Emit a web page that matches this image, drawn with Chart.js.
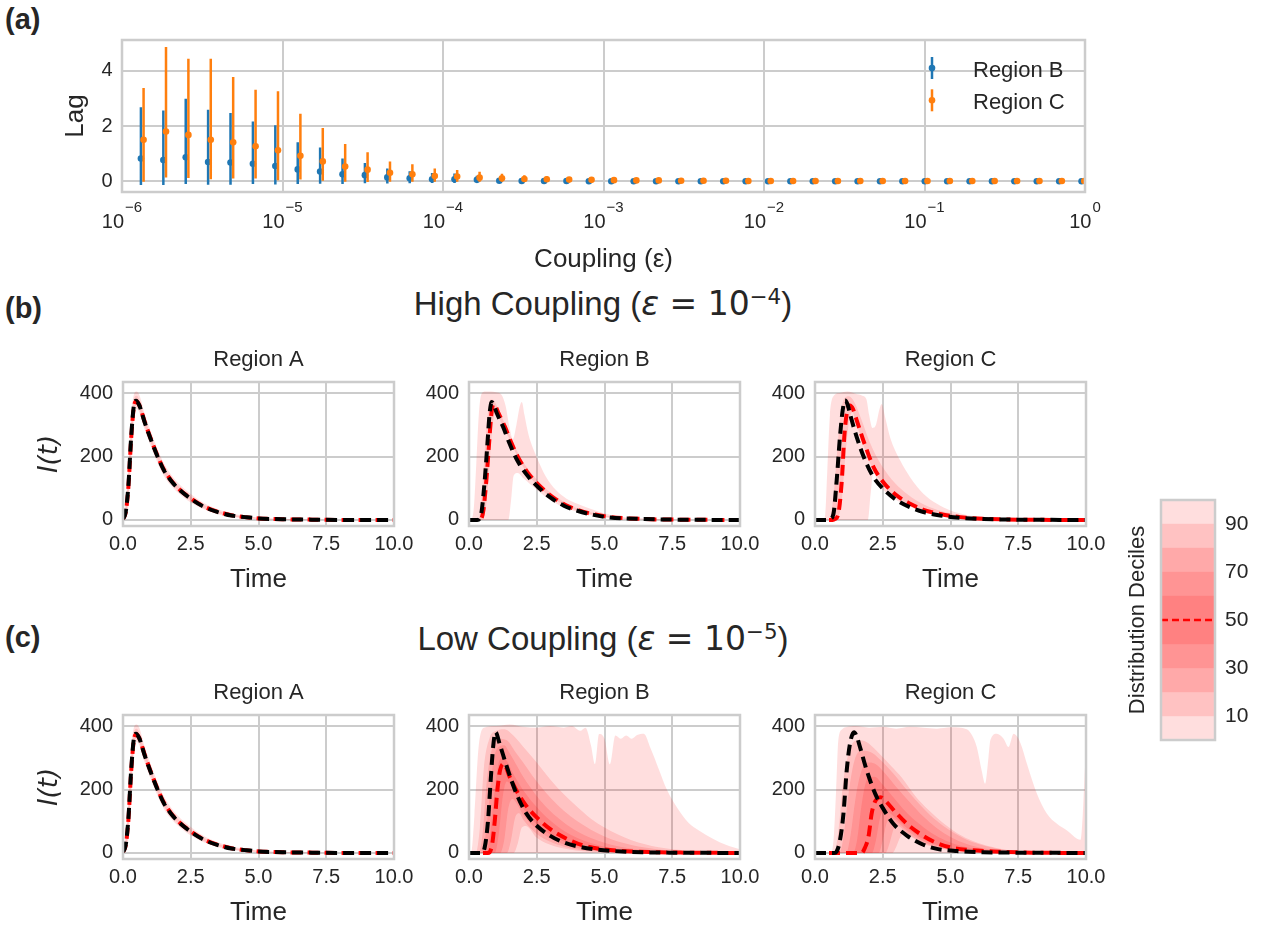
<!DOCTYPE html>
<html>
<head>
<meta charset="utf-8">
<script src="https://cdn.jsdelivr.net/npm/chart.js@4.4.0/dist/chart.umd.min.js"></script>
<style>
  body { margin: 0; background: #fff; }
  #fig { position: relative; width: 1261px; height: 926px; overflow: hidden;
         font-family: 'Liberation Sans', Arial, sans-serif; color: #262626; }
  canvas { position: absolute; }
  .panel { position: absolute; font-weight: bold; font-size: 29px; line-height: 1; }
  .suptitle { position: absolute; left: 253px; width: 700px; text-align: center;
              font-size: 33px; line-height: 1; white-space: nowrap; }
  .m { font-family: 'DejaVu Sans', sans-serif; }
  .sp { font-size: 0.65em; position: relative; top: -0.5em; }
</style>
</head>
<body>
<div id="fig">
  <div class="panel" style="left:5px; top:5px">(a)</div>
  <div class="panel" style="left:5px; top:293.5px">(b)</div>
  <div class="panel" style="left:5px; top:623px">(c)</div>
  <div class="suptitle" style="top:287px">High Coupling (<span class="m"><i>ε</i> = 10<span class="sp">−4</span></span>)</div>
  <div class="suptitle" style="top:622px">Low Coupling (<span class="m"><i>ε</i> = 10<span class="sp">−5</span></span>)</div>

  <canvas id="lag" width="1100" height="265" style="left:20px; top:25px"></canvas>
  <canvas id="highA" width="401" height="274" style="left:23px; top:332px"></canvas>
  <canvas id="highB" width="401" height="274" style="left:369px; top:332px"></canvas>
  <canvas id="highC" width="401" height="274" style="left:715px; top:332px"></canvas>
  <canvas id="lowA" width="401" height="274" style="left:23px; top:665px"></canvas>
  <canvas id="lowB" width="401" height="274" style="left:369px; top:665px"></canvas>
  <canvas id="lowC" width="401" height="274" style="left:715px; top:665px"></canvas>
  <canvas id="cbar" width="161" height="280" style="left:1100px; top:480px"></canvas>
</div>
<script>
// ---- panel (a): lag vs coupling ----
const couplingValues = [1.378e-6, 1.901e-6, 2.621e-6, 3.613e-6, 4.983e-6, 6.872e-6, 9.478e-6,
  1.307e-5, 1.802e-5, 2.485e-5, 3.427e-5, 4.726e-5, 6.516e-5, 8.985e-5,
  1.239e-4, 1.709e-4, 2.356e-4, 3.249e-4, 4.480e-4, 6.178e-4, 8.519e-4,
  1.175e-3, 1.620e-3, 2.234e-3, 3.080e-3, 4.247e-3, 5.857e-3, 8.076e-3,
  1.114e-2, 1.535e-2, 2.117e-2, 2.919e-2, 4.026e-2, 5.551e-2, 7.655e-2,
  0.1055, 0.1455, 0.2007, 0.2767, 0.3816, 0.5262, 0.7256, 1.0];
const lagB = [0.82, 0.77, 0.87, 0.70, 0.68, 0.63, 0.55, 0.43, 0.35, 0.25, 0.22, 0.14, 0.11, 0.07,
  0.07, 0.05, 0.02, 0.01, 0.01, 0.01, 0.00, 0.00, 0.00, 0.00, 0.00, 0.00, 0.00, 0.00,
  0.00, 0.00, 0.00, 0.00, 0.00, 0.00, 0.00, 0.00, 0.00, 0.00, 0.00, 0.00, 0.00, 0.00, 0.00];
const lagBLow = [-0.14, -0.14, -0.10, -0.13, -0.13, -0.10, -0.12, -0.10, -0.09, -0.10, -0.07, -0.08, -0.07, -0.06,
  -0.06, -0.05, -0.05, -0.04, -0.04, -0.03, -0.03, -0.02, -0.02, -0.02, -0.01, -0.01, -0.01, -0.01,
  -0.01, -0.01, -0.01, 0.00, 0.00, 0.00, 0.00, 0.00, 0.00, 0.00, 0.00, 0.00, 0.00, 0.00, 0.00];
const lagBHigh = [2.68, 2.56, 2.99, 2.59, 2.47, 2.17, 2.03, 1.41, 1.22, 0.82, 0.66, 0.46, 0.36, 0.30,
  0.28, 0.20, 0.12, 0.10, 0.08, 0.06, 0.05, 0.04, 0.03, 0.03, 0.02, 0.02, 0.02, 0.01,
  0.01, 0.01, 0.01, 0.01, 0.01, 0.00, 0.00, 0.00, 0.00, 0.00, 0.00, 0.00, 0.00, 0.00, 0.00];
const lagC = [1.50, 1.80, 1.68, 1.50, 1.41, 1.27, 1.12, 0.92, 0.72, 0.53, 0.42, 0.31, 0.25, 0.19,
  0.17, 0.13, 0.11, 0.08, 0.07, 0.06, 0.05, 0.04, 0.03, 0.03, 0.02, 0.02, 0.02, 0.01,
  0.01, 0.01, 0.01, 0.01, 0.01, 0.01, 0.01, 0.01, 0.01, 0.01, 0.01, 0.01, 0.01, 0.01, 0.01];
const lagCLow = [-0.02, 0.14, 0.12, 0.07, 0.10, 0.10, 0.04, 0.06, 0.02, -0.02, -0.03, -0.02, -0.02, -0.02,
  -0.02, -0.02, -0.02, -0.01, -0.01, -0.01, -0.01, -0.01, -0.01, -0.01, -0.01, -0.01, 0.00, 0.00,
  0.00, 0.00, 0.00, 0.00, 0.00, 0.00, 0.00, 0.00, 0.00, 0.00, 0.00, 0.00, 0.00, 0.00, 0.00];
const lagCHigh = [3.38, 4.87, 4.44, 4.44, 3.78, 3.32, 3.26, 2.45, 1.93, 1.35, 1.05, 0.72, 0.62, 0.46,
  0.41, 0.34, 0.27, 0.22, 0.18, 0.14, 0.12, 0.09, 0.07, 0.06, 0.05, 0.05, 0.04, 0.03,
  0.03, 0.03, 0.02, 0.02, 0.02, 0.02, 0.02, 0.02, 0.02, 0.02, 0.02, 0.02, 0.02, 0.02, 0.02];
const lagSeriesNames = ['Region B', 'Region C'];
const decadeExponents = [-6, -5, -4, -3, -2, -1, 0];
const lagTicks = [0, 2, 4];

// ---- panels (b), (c): I(t) over time, [time, value] pairs ----
const timeTicks = [0, 2.5, 5, 7.5, 10];
const countTicks = [0, 200, 400];

// Region A (same in both coupling settings)
const regionA_black = [[0,3],[0.1,25],[0.2,110],[0.3,260],[0.4,360],[0.48,376],[0.6,362],[0.8,308],[1,260],[1.25,205],[1.5,158],[1.75,126],[2,102],[2.5,67],[3,41],[3.5,25],[4,14],[4.5,9],[5,5],[6,2],[7,1],[8,0],[10,0]];
const regionA_median = [[0,3],[0.1,24],[0.2,105],[0.3,255],[0.4,355],[0.5,374],[0.6,362],[0.8,310],[1,262],[1.25,207],[1.5,160],[1.75,128],[2,103],[2.5,68],[3,42],[3.5,26],[4,15],[4.5,9],[5,5],[6,2],[7,1],[8,0],[10,0]];
const regionA_p0 = [[0,0],[0.1,5],[0.2,45],[0.3,170],[0.4,310],[0.5,350],[0.6,340],[0.8,285],[1,238],[1.25,185],[1.5,140],[1.75,110],[2,88],[2.5,55],[3,33],[3.5,18],[4,9],[4.5,5],[5,3],[6,1],[7,0],[10,0]];
const regionA_p10 = [[0,1],[0.1,12],[0.2,75],[0.3,215],[0.4,335],[0.5,362],[0.6,350],[0.8,296],[1,249],[1.25,195],[1.5,149],[1.75,118],[2,95],[2.5,61],[3,37],[3.5,22],[4,12],[5,4],[6,1],[7,0],[10,0]];
const regionA_p90 = [[0,8],[0.1,40],[0.2,150],[0.3,300],[0.4,380],[0.5,392],[0.6,380],[0.8,322],[1,272],[1.25,216],[1.5,168],[1.75,135],[2,110],[2.5,74],[3,47],[3.5,29],[4,17],[5,6],[6,2],[7,1],[10,0]];
const regionA_p100 = [[0,15],[0.1,60],[0.2,180],[0.3,330],[0.4,395],[0.5,405],[0.6,395],[0.8,335],[1,285],[1.25,228],[1.5,180],[1.75,146],[2,120],[2.5,82],[3,53],[3.5,34],[4,21],[4.5,13],[5,8],[6,3],[7,1],[8,0],[10,0]];

// High coupling, Region B
const highB_black = [[0,0],[0.3,0],[0.4,5],[0.47,30],[0.58,125],[0.68,240],[0.76,335],[0.84,372],[0.92,362],[1.01,340],[1.26,293],[1.5,240],[1.75,193],[2.1,146],[2.5,108],[3,71],[3.5,45],[4,29],[4.6,16],[5.2,8],[6.4,3],[7.6,1],[10,0]];
const highB_median = [[0,0],[0.36,0],[0.46,5],[0.53,30],[0.64,125],[0.74,240],[0.82,330],[0.9,365],[0.98,358],[1.07,340],[1.32,295],[1.56,244],[1.81,198],[2.16,150],[2.56,111],[3.06,74],[3.56,47],[4.06,30],[4.66,17],[5.26,9],[6.46,3],[7.66,1],[10,0]];
const highB_p0 = [[0,0],[1.45,0],[1.55,60],[1.65,140],[1.8,148],[2,132],[2.5,95],[3,62],[3.5,40],[4,25],[4.5,15],[5,8],[6,2],[7,0],[10,0]];
const highB_p10 = [[0,0],[0.45,0],[0.55,10],[0.65,60],[0.75,170],[0.85,280],[0.95,335],[1.05,338],[1.2,300],[1.45,262],[1.7,215],[1.95,174],[2.3,130],[2.7,94],[3.2,62],[3.7,39],[4.2,24],[4.8,13],[5.4,6],[6.6,2],[8,0],[10,0]];
const highB_p90 = [[0,0],[0.3,0],[0.4,20],[0.5,110],[0.6,240],[0.7,340],[0.8,380],[0.9,378],[1.1,345],[1.35,298],[1.6,250],[1.85,205],[2.2,158],[2.6,118],[3.1,80],[3.6,52],[4.1,34],[4.7,20],[5.3,11],[6.5,4],[7.7,1],[10,0]];
const highB_p100 = [[0,0],[0.08,2],[0.18,40],[0.27,180],[0.36,330],[0.45,395],[0.6,405],[0.8,405],[1,403],[1.2,395],[1.35,360],[1.5,290],[1.62,255],[1.75,300],[1.88,360],[1.95,372],[2.05,330],[2.2,268],[2.5,198],[2.85,135],[3.2,95],[3.6,67],[4,51],[4.45,36],[4.95,22],[5.45,12],[6,6],[7,2],[8,0],[10,0]];

// High coupling, Region C
const highC_black = [[0,0],[0.45,0],[0.55,3],[0.68,19],[0.8,125],[0.92,261],[1.02,345],[1.11,377],[1.2,365],[1.29,335],[1.54,261],[1.85,188],[2.16,135],[2.52,98],[3.02,62],[3.51,40],[4,25],[4.62,14],[5.36,7],[6.22,3],[7.5,1],[10,0]];
const highC_median = [[0,0],[0.65,0],[0.74,3],[0.86,19],[0.99,125],[1.08,261],[1.17,335],[1.29,361],[1.4,350],[1.54,314],[1.85,235],[2.16,167],[2.52,119],[3.02,77],[3.51,51],[4,32],[4.62,19],[5.36,9],[6.2,4],[7.5,1],[10,0]];
const highC_p0 = [[0,0],[1.95,0],[2.05,80],[2.15,150],[2.3,125],[2.52,95],[3.14,56],[3.76,35],[4.5,17],[5.5,6],[6.5,2],[7.5,0],[10,0]];
const highC_p10 = [[0,0],[0.78,0],[0.88,10],[1,70],[1.12,200],[1.25,305],[1.38,340],[1.5,310],[1.7,258],[2,185],[2.3,138],[2.7,95],[3.2,62],[3.7,40],[4.2,25],[4.8,14],[5.5,6],[6.5,2],[8,0],[10,0]];
const highC_p90 = [[0,0],[0.5,0],[0.6,20],[0.72,110],[0.85,250],[0.98,350],[1.1,385],[1.25,390],[1.45,372],[1.7,320],[2,250],[2.3,195],[2.7,142],[3.2,96],[3.7,64],[4.2,42],[4.8,25],[5.5,13],[6.5,5],[8,1],[10,0]];
const highC_p100 = [[0,0],[0.3,0],[0.38,20],[0.45,150],[0.55,330],[0.68,390],[0.9,400],[1.2,405],[1.5,398],[1.75,392],[1.9,380],[2,330],[2.12,290],[2.25,300],[2.38,350],[2.46,366],[2.6,320],[2.77,261],[3.14,188],[3.51,135],[4,83],[4.5,51],[5,30],[5.6,16],[6.2,10],[7,4],[8,1],[10,0]];

// Low coupling, Region B
const lowB_black = [[0,0],[0.45,0],[0.58,18],[0.7,100],[0.8,229],[0.89,334],[0.98,381],[1.13,344],[1.38,276],[1.75,187],[2.12,124],[2.5,86],[3,54],[3.5,33],[4,21],[4.6,12],[5.2,7],[6.4,2],[7.5,1],[10,0]];
const lowB_median = [[0,0],[0.7,0],[0.85,25],[0.95,100],[1.05,200],[1.15,262],[1.28,281],[1.5,240],[1.75,197],[2.1,150],[2.5,112],[3,75],[3.6,45],[4.2,24],[5,11],[6,5],[7,2],[8,1],[10,0]];
const lowB_p0 = [[0,0],[10,0]];
const lowB_p10 = [[0,0],[1.65,0],[1.8,30],[1.95,80],[2.1,85],[2.5,48],[3,26],[3.5,14],[4,7],[5,2],[6,0.5],[7,0],[10,0]];
const lowB_p20 = [[0,0],[1.4,0],[1.55,40],[1.7,110],[1.85,125],[2,105],[2.5,60],[3,35],[3.5,20],[4,11],[5,3],[6,1],[7,0],[10,0]];
const lowB_p30 = [[0,0],[1.15,0],[1.3,40],[1.45,140],[1.6,170],[1.8,150],[2,120],[2.5,75],[3,46],[3.5,27],[4,16],[5,5],[6,1.5],[7,0.5],[10,0]];
const lowB_p40 = [[0,0],[0.95,0],[1.1,60],[1.25,180],[1.4,225],[1.6,205],[1.8,170],[2,140],[2.5,90],[3,58],[3.5,36],[4,21],[5,7],[6,2.5],[7,1],[10,0]];
const lowB_p60 = [[0,0],[0.6,0],[0.75,40],[0.9,160],[1.05,265],[1.2,300],[1.4,290],[1.6,255],[1.8,225],[2,198],[2.5,145],[3,102],[3.5,70],[4,47],[5,20],[6,8],[7,3],[8,1],[10,0]];
const lowB_p70 = [[0,0],[0.45,0],[0.6,50],[0.75,170],[0.9,290],[1.1,335],[1.3,340],[1.5,315],[1.8,270],[2,240],[2.5,180],[3,132],[3.5,96],[4,68],[5,32],[6,14],[7,6],[8,2],[10,0]];
const lowB_p80 = [[0,0],[0.35,0],[0.5,60],[0.65,220],[0.85,330],[1.1,360],[1.4,355],[1.7,320],[2,285],[2.5,225],[3,175],[3.5,133],[4,100],[5,52],[6,25],[7,11],[8,4],[10,0]];
const lowB_p90 = [[0,0],[0.25,0],[0.4,80],[0.55,270],[0.75,360],[1,385],[1.3,390],[1.7,365],[2,335],[2.5,285],[3,232],[3.5,185],[4,145],[4.5,108],[5,80],[6,40],[7,18],[8,8],[9,3],[10,1]];
const lowB_p100 = [[0,0],[0.08,0],[0.2,120],[0.35,330],[0.55,395],[1,400],[1.5,405],[2,398],[2.5,395],[3,400],[3.5,395],[3.8,400],[4.1,385],[4.3,395],[4.5,340],[4.65,280],[4.8,375],[5,360],[5.2,280],[5.4,370],[5.6,360],[5.8,370],[6,360],[6.2,372],[6.45,376],[6.7,330],[7,265],[7.3,200],[7.7,140],[8.1,95],[8.5,70],[9,45],[9.5,25],[10,12]];

// Low coupling, Region C
const lowC_black = [[0,0],[0.7,0],[0.8,5],[0.92,39],[1.05,124],[1.17,260],[1.29,344],[1.44,381],[1.55,365],[1.66,334],[1.91,260],[2.22,187],[2.52,139],[2.89,92],[3.39,55],[4,26],[4.5,13],[5.23,6],[6.2,2],[7.5,1],[10,0]];
const lowC_median = [[0,0],[1.72,0],[1.85,18],[1.97,50],[2.09,124],[2.18,155],[2.28,170],[2.4,176],[2.52,172],[2.65,160],[3.02,124],[3.39,92],[3.88,60],[4.37,36],[4.99,18],[5.6,10],[6.83,4],[8,1],[10,0]];
const lowC_p0 = [[0,0],[10,0]];
const lowC_p10 = [[0,0],[2.85,0],[3,20],[3.15,50],[3.3,60],[3.6,48],[4,28],[4.5,16],[5,9],[5.6,4],[6.5,1],[7.5,0],[10,0]];
const lowC_p20 = [[0,0],[2.6,0],[2.75,30],[2.9,75],[3.05,85],[3.4,62],[3.9,36],[4.4,20],[5,9],[5.6,4],[6.5,1],[7.5,0],[10,0]];
const lowC_p30 = [[0,0],[2.35,0],[2.5,40],[2.65,95],[2.8,110],[3,100],[3.4,70],[3.9,42],[4.4,24],[5,11],[5.6,5],[6.5,2],[7.5,0],[10,0]];
const lowC_p40 = [[0,0],[2.1,0],[2.25,40],[2.4,110],[2.55,135],[2.7,130],[3,108],[3.4,78],[3.9,48],[4.4,28],[5,13],[5.6,7],[6.5,3],[7.5,1],[10,0]];
const lowC_p60 = [[0,0],[1.4,0],[1.55,40],[1.7,140],[1.85,215],[2,240],[2.2,240],[2.5,215],[2.9,175],[3.3,135],[3.8,95],[4.3,63],[4.8,40],[5.4,22],[6,12],[7,4],[8,1],[10,0]];
const lowC_p70 = [[0,0],[1.15,0],[1.3,50],[1.5,175],[1.7,255],[1.95,285],[2.2,282],[2.6,250],[3,208],[3.5,160],[4,115],[4.5,78],[5,50],[5.6,28],[6.3,13],[7,6],[8,2],[10,0]];
const lowC_p80 = [[0,0],[0.9,0],[1.05,50],[1.25,195],[1.45,290],[1.7,322],[2,320],[2.4,295],[2.9,250],[3.4,198],[3.9,150],[4.4,108],[5,70],[5.6,42],[6.3,22],[7,10],[8,3],[10,0]];
const lowC_p90 = [[0,0],[0.7,0],[0.85,60],[1.05,230],[1.3,330],[1.6,355],[1.9,350],[2.3,320],[2.8,275],[3.2,238],[3.7,180],[4.2,135],[4.8,90],[5.4,55],[6,32],[6.7,16],[7.5,6],[8.5,2],[10,0]];
const lowC_p100 = [[0,0],[0.6,0],[0.7,60],[0.78,200],[0.86,355],[1,390],[1.17,397],[1.5,400],[2,395],[2.5,398],[3,392],[3.5,398],[4,395],[4.5,392],[5,396],[5.6,390],[5.8,370],[5.97,334],[6.15,260],[6.28,218],[6.4,300],[6.47,355],[6.71,376],[6.96,360],[7.14,334],[7.33,376],[7.51,360],[7.65,330],[7.82,281],[8.19,187],[8.56,124],[8.93,92],[9.3,71],[9.67,45],[9.8,42],[9.88,120],[9.97,281],[10,300]];

// colourbar
const decileBands = [[0, 100], [10, 90], [20, 80], [30, 70], [40, 60]];
const decileTicks = [10, 30, 50, 70, 90];

// ---- styling ----
const ink = '#262626';
const gridColor = '#cccccc';
const bandColor = 'rgba(255, 0, 0, 0.13)';
const blue = '#1f77b4';
const orange = '#ff7f0e';
const FONT = "'Liberation Sans', Arial, sans-serif";

Chart.defaults.font.family = FONT;
Chart.defaults.color = ink;
Chart.defaults.animation = false;

// box around the axes (seaborn whitegrid spines)
const frame = {
  id: 'frame',
  afterDatasetsDraw(chart) {
    const a = chart.chartArea, ctx = chart.ctx;
    ctx.save();
    ctx.strokeStyle = gridColor;
    ctx.lineWidth = 2.5;
    ctx.strokeRect(a.left, a.top, a.right - a.left, a.bottom - a.top);
    ctx.restore();
  }
};

// title centred over the axes, not the canvas
const subplotTitle = {
  id: 'subplotTitle',
  afterDraw(chart, args, opts) {
    const a = chart.chartArea, ctx = chart.ctx;
    ctx.save();
    ctx.fillStyle = ink;
    ctx.font = '22px ' + FONT;
    ctx.textAlign = 'center';
    ctx.textBaseline = 'middle';
    ctx.fillText(opts.text, (a.left + a.right) / 2, a.top - 22.5);
    ctx.restore();
  }
};

const fixTicks = values => scale => { scale.ticks = values.map(v => ({value: v})); };
const fixWidth = w => scale => { scale.width = w; scale.paddingTop = 0; scale.paddingBottom = 0; };
const toPoints = series => series.map(([t, v]) => ({x: t, y: v}));

function regionChart(id, title, yTitle, black, median, bands) {
  const datasets = [];
  bands.forEach(([lo, hi]) => {
    const loIndex = datasets.length;
    datasets.push({data: toPoints(lo), borderWidth: 0, borderColor: 'rgba(0,0,0,0)',
                   backgroundColor: bandColor, fill: false, order: 5});
    datasets.push({data: toPoints(hi), borderWidth: 0, borderColor: 'rgba(0,0,0,0)',
                   backgroundColor: bandColor, fill: loIndex, order: 5});
  });
  datasets.push({data: toPoints(median), borderColor: '#ff0000', borderWidth: 4,
                 borderDash: [11, 6], borderDashOffset: 3, fill: false, order: 1});
  datasets.push({data: toPoints(black), borderColor: '#000000', borderWidth: 4,
                 borderDash: [11, 6], fill: false, order: 0});

  return new Chart(document.getElementById(id), {
    type: 'line',
    data: {datasets},
    options: {
      responsive: false, devicePixelRatio: 1, animation: false, events: [],
      elements: {point: {radius: 0}, line: {cubicInterpolationMode: 'monotone', borderCapStyle: 'butt'}},
      layout: {padding: {left: 0, right: 30, top: 50, bottom: 0}},
      plugins: {
        legend: {display: false}, tooltip: {enabled: false}, colors: {enabled: false},
        subplotTitle: {text: title}
      },
      scales: {
        x: {
          type: 'linear', min: 0, max: 10,
          afterBuildTicks: fixTicks(timeTicks),
          afterFit: s => { s.height = 80; },
          ticks: {callback: v => v.toFixed(1), font: {size: 20}, padding: 6.7, maxRotation: 0, autoSkip: false},
          grid: {color: gridColor, lineWidth: 2, drawTicks: false},
          border: {display: false},
          title: {display: true, text: 'Time', font: {size: 26}, padding: {top: 0, bottom: 10.4}}
        },
        y: {
          min: -19, max: 435,
          afterBuildTicks: fixTicks(countTicks),
          afterFit: fixWidth(100),
          ticks: {font: {size: 20}, padding: 10},
          grid: {color: gridColor, lineWidth: 2, drawTicks: false},
          border: {display: false},
          title: {display: yTitle, text: 'I(t)', font: {size: 26, style: 'italic', family: "'DejaVu Sans', sans-serif"},
                  padding: {top: 11.4, bottom: 0}}
        }
      }
    },
    plugins: [frame, subplotTitle]
  });
}

regionChart('highA', 'Region A', true, regionA_black, regionA_median,
  [[regionA_p0, regionA_p100], [regionA_p10, regionA_p90]]);
regionChart('highB', 'Region B', false, highB_black, highB_median,
  [[highB_p0, highB_p100], [highB_p10, highB_p90]]);
regionChart('highC', 'Region C', false, highC_black, highC_median,
  [[highC_p0, highC_p100], [highC_p10, highC_p90]]);
regionChart('lowA', 'Region A', true, regionA_black, regionA_median,
  [[regionA_p0, regionA_p100], [regionA_p10, regionA_p90]]);
regionChart('lowB', 'Region B', false, lowB_black, lowB_median,
  [[lowB_p0, lowB_p100], [lowB_p10, lowB_p90], [lowB_p20, lowB_p80], [lowB_p30, lowB_p70], [lowB_p40, lowB_p60]]);
regionChart('lowC', 'Region C', false, lowC_black, lowC_median,
  [[lowC_p0, lowC_p100], [lowC_p10, lowC_p90], [lowC_p20, lowC_p80], [lowC_p30, lowC_p70], [lowC_p40, lowC_p60]]);

// ---- panel (a) ----
const dodgeB = 0.952, dodgeC = 0.989;
const errorSegments = (lo, hi, f) => couplingValues.flatMap((c, i) =>
  [{x: c * f, y: lo[i]}, {x: c * f, y: hi[i]}, {x: c * f, y: null}]);
const centres = (vals, f) => couplingValues.map((c, i) => ({x: c * f, y: vals[i]}));

const decadeLabels = {
  id: 'decadeLabels',
  afterDraw(chart) {
    const s = chart.scales.x, ctx = chart.ctx, y = chart.chartArea.bottom + 36;
    ctx.save();
    ctx.fillStyle = ink;
    ctx.textAlign = 'left';
    ctx.textBaseline = 'alphabetic';
    decadeExponents.forEach(e => {
      const x = s.getPixelForValue(Math.pow(10, e));
      const base = '10', sup = e < 0 ? '\u2212' + (-e) : String(e);
      ctx.font = '20px ' + FONT;
      const w1 = ctx.measureText(base).width;
      ctx.font = '15px ' + FONT;
      const w2 = ctx.measureText(sup).width;
      const x0 = x - (w1 + 1 + w2) / 2;
      ctx.font = '20px ' + FONT;
      ctx.fillText(base, x0, y);
      ctx.font = '15px ' + FONT;
      ctx.fillText(sup, x0 + w1 + 1, y - 16);
    });
    ctx.restore();
  }
};

const lagLegend = {
  id: 'lagLegend',
  afterDraw(chart) {
    const a = chart.chartArea, ctx = chart.ctx;
    ctx.save();
    [blue, orange].forEach((color, k) => {
      const mx = a.right - 153, my = a.top + 28 + 32.3 * k;
      ctx.strokeStyle = color;
      ctx.lineWidth = 2.5;
      ctx.beginPath();
      ctx.moveTo(mx, my - 11);
      ctx.lineTo(mx, my + 11);
      ctx.stroke();
      ctx.fillStyle = color;
      ctx.beginPath();
      ctx.arc(mx, my, 3.3, 0, Math.PI * 2);
      ctx.fill();
      ctx.fillStyle = ink;
      ctx.font = '22px ' + FONT;
      ctx.textBaseline = 'alphabetic';
      ctx.fillText(lagSeriesNames[k], a.right - 112, my + 8.5);
    });
    ctx.restore();
  }
};

new Chart(document.getElementById('lag'), {
  type: 'scatter',
  data: {datasets: [
    {type: 'line', showLine: true, data: errorSegments(lagBLow, lagBHigh, dodgeB),
     borderColor: blue, borderWidth: 2.5, pointRadius: 0, fill: false, order: 3},
    {data: centres(lagB, dodgeB), backgroundColor: blue, borderWidth: 0, pointRadius: 3.3, order: 2},
    {type: 'line', showLine: true, data: errorSegments(lagCLow, lagCHigh, dodgeC),
     borderColor: orange, borderWidth: 2.5, pointRadius: 0, fill: false, order: 1},
    {data: centres(lagC, dodgeC), backgroundColor: orange, borderWidth: 0, pointRadius: 3.3, order: 0}
  ]},
  options: {
    responsive: false, devicePixelRatio: 1, animation: false, events: [],
    layout: {padding: {left: 0, right: 35, top: 15, bottom: 0}},
    plugins: {legend: {display: false}, tooltip: {enabled: false}, colors: {enabled: false}},
    scales: {
      x: {
        type: 'logarithmic', min: 1e-6, max: 1,
        afterBuildTicks: fixTicks(decadeExponents.map(e => Math.pow(10, e))),
        afterFit: s => { s.height = 98; },
        ticks: {display: false},
        grid: {color: gridColor, lineWidth: 2, drawTicks: false},
        border: {display: false},
        title: {display: true, text: 'Coupling (ε)', font: {size: 26}, padding: {top: 0, bottom: 14.4}}
      },
      y: {
        min: -0.39, max: 5.12,
        afterBuildTicks: fixTicks(lagTicks),
        afterFit: fixWidth(102),
        ticks: {font: {size: 20}, padding: 9.5},
        grid: {color: gridColor, lineWidth: 2, drawTicks: false},
        border: {display: false},
        title: {display: true, text: 'Lag', font: {size: 26}, padding: {top: 40.4, bottom: 0}}
      }
    }
  },
  plugins: [frame, decadeLabels, lagLegend]
});

// ---- colourbar ----
const medianMark = {
  id: 'medianMark',
  afterDatasetsDraw(chart) {
    const a = chart.chartArea, ctx = chart.ctx, y = chart.scales.y.getPixelForValue(50);
    ctx.save();
    ctx.strokeStyle = '#ff0000';
    ctx.lineWidth = 2.5;
    ctx.setLineDash([7, 4]);
    ctx.beginPath();
    ctx.moveTo(a.left, y);
    ctx.lineTo(a.right, y);
    ctx.stroke();
    ctx.restore();
  }
};

new Chart(document.getElementById('cbar'), {
  type: 'bar',
  data: {labels: [''], datasets: decileBands.map(b => ({
    data: [b], backgroundColor: bandColor, borderWidth: 0,
    barPercentage: 1, categoryPercentage: 1, grouped: false
  }))},
  options: {
    responsive: false, devicePixelRatio: 1, animation: false, events: [],
    layout: {padding: {left: 0, right: 0, top: 20, bottom: 20}},
    plugins: {legend: {display: false}, tooltip: {enabled: false}, colors: {enabled: false}},
    scales: {
      x: {display: false},
      y: {
        position: 'right', min: 0, max: 100,
        afterBuildTicks: fixTicks(decileTicks),
        afterFit: fixWidth(46),
        ticks: {font: {size: 21}, padding: 10},
        grid: {display: false, drawTicks: false},
        border: {display: false}
      },
      yl: {
        position: 'left', min: 0, max: 100,
        afterFit: fixWidth(61),
        ticks: {display: false},
        grid: {display: false, drawTicks: false},
        border: {display: false},
        title: {display: true, text: 'Distribution Deciles', font: {size: 22}, padding: {top: 25, bottom: 0}}
      }
    }
  },
  plugins: [medianMark, frame]
});
</script>
</body>
</html>
